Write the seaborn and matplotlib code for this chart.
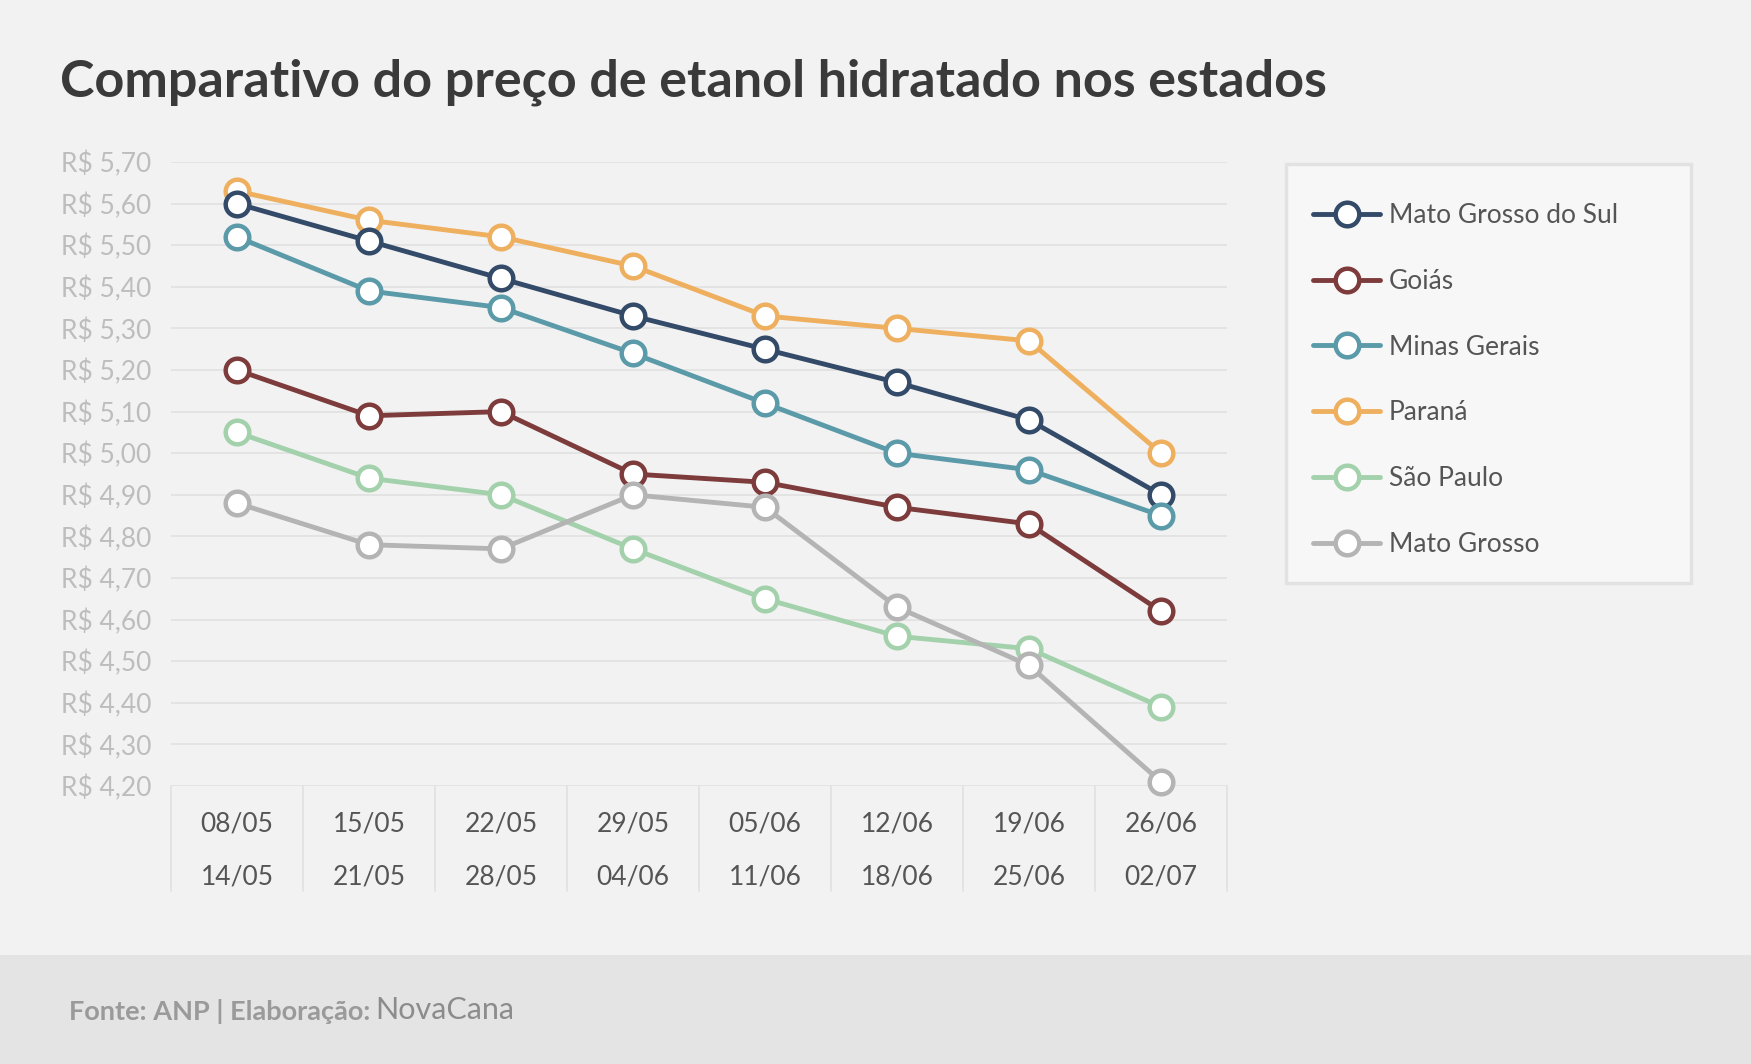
import matplotlib
matplotlib.use("Agg")
import matplotlib.pyplot as plt
import seaborn as sns
import pandas as pd
from matplotlib.patches import Rectangle
from matplotlib.ticker import FixedLocator, FixedFormatter

# ---------------- data ----------------
weeks_start = ["08/05", "15/05", "22/05", "29/05", "05/06", "12/06", "19/06", "26/06"]
weeks_end = ["14/05", "21/05", "28/05", "04/06", "11/06", "18/06", "25/06", "02/07"]
states = ["Mato Grosso do Sul", "Goiás", "Minas Gerais", "Paraná", "São Paulo", "Mato Grosso"]
mato_grosso_do_sul = [5.60, 5.51, 5.42, 5.33, 5.25, 5.17, 5.08, 4.90]
goias = [5.20, 5.09, 5.10, 4.95, 4.93, 4.87, 4.83, 4.62]
minas_gerais = [5.52, 5.39, 5.35, 5.24, 5.12, 5.00, 4.96, 4.85]
parana = [5.63, 5.56, 5.52, 5.45, 5.33, 5.30, 5.27, 5.00]
sao_paulo = [5.05, 4.94, 4.90, 4.77, 4.65, 4.56, 4.53, 4.39]
mato_grosso = [4.88, 4.78, 4.77, 4.90, 4.87, 4.63, 4.49, 4.21]
y_ticks = [4.20, 4.30, 4.40, 4.50, 4.60, 4.70, 4.80, 4.90, 5.00,
           5.10, 5.20, 5.30, 5.40, 5.50, 5.60, 5.70]
colors = ["#334a68", "#7d3b3b", "#5b9aa8", "#eeb05f", "#a3d1ac", "#b4b4b4"]

series = [mato_grosso_do_sul, goias, minas_gerais, parana, sao_paulo, mato_grosso]
rows = []
for st, vals in zip(states, series):
    for i, v in enumerate(vals):
        rows.append({"semana": i, "preco": v, "estado": st})
df = pd.DataFrame(rows)

# ---------------- figure ----------------
W, H = 1751, 1064
sns.set_theme(style="white")
plt.rcParams["font.family"] = ["Lato", "DejaVu Sans"]

fig = plt.figure(figsize=(W / 100, H / 100), dpi=100)
fig.patch.set_facecolor("#f2f2f2")

# footer band
fig.add_artist(Rectangle((0, 0), 1, (H - 955) / H, transform=fig.transFigure,
                         facecolor="#e4e4e4", edgecolor="none", zorder=-2))

# title
fig.text(60 / W, 1 - 82 / H, "Comparativo do preço de etanol hidratado nos estados",
         fontsize=37.5, fontweight="bold", color="#3a3a3a", va="center", ha="left")

ax = fig.add_axes([171 / W, 1 - 786 / H, (1227 - 171) / W, (786 - 162) / H])
ax.set_facecolor("none")

sns.lineplot(data=df, x="semana", y="preco", hue="estado", hue_order=states,
             palette=colors, marker="o", markersize=17, linewidth=3.5,
             markeredgewidth=3.2, ax=ax, legend=False)

zorders = {"Mato Grosso do Sul": 4, "Goiás": 3, "Minas Gerais": 5,
           "Paraná": 2.5, "São Paulo": 5.5, "Mato Grosso": 6}
data_lines = list(ax.lines)
for line, st in zip(data_lines, states):
    c = line.get_color()
    line.set_markeredgecolor(c)
    line.set_markerfacecolor("white")
    line.set_zorder(zorders[st])
    line.set_clip_on(False)
    line.set_solid_capstyle("round")

ax.set_xlim(-0.5, 7.5)
ax.set_ylim(4.20, 5.70)
ax.yaxis.set_major_locator(FixedLocator(y_ticks))
ax.yaxis.set_major_formatter(FixedFormatter(
    ["R$ " + f"{v:.2f}".replace(".", ",") for v in y_ticks]))
ax.grid(axis="y", color="#e2e2e2", linewidth=1.3)
ax.grid(axis="x", visible=False)
ax.set_axisbelow(True)
for s in ax.spines.values():
    s.set_visible(False)
ax.set_xlabel("")
ax.set_ylabel("")

ax.tick_params(axis="y", length=0, pad=14, labelsize=19, labelcolor="#bdbdbd")

# two-row x labels: major (start) + minor (end) at the same positions
ax.xaxis.remove_overlapping_locs = False
ax.xaxis.set_major_locator(FixedLocator(range(len(weeks_start))))
ax.xaxis.set_major_formatter(FixedFormatter(weeks_start))
ax.xaxis.set_minor_locator(FixedLocator(range(len(weeks_end))))
ax.xaxis.set_minor_formatter(FixedFormatter(weeks_end))
ax.tick_params(axis="x", which="major", length=0, pad=18.5, labelsize=19, labelcolor="#555555")
ax.tick_params(axis="x", which="minor", length=0, pad=56.5, labelsize=19, labelcolor="#555555")

# category separators below the plot
for b in [i - 0.5 for i in range(len(weeks_start) + 1)]:
    ax.plot([b, b], [0, -105 / 624], transform=ax.get_xaxis_transform(),
            color="#e2e2e2", linewidth=1.3, clip_on=False, zorder=1)

# legend box (drawn below the axes so the legend sits on top)
fig.add_artist(Rectangle((1286 / W, 1 - 583 / H), 405 / W, 419 / H,
                         transform=fig.transFigure, facecolor="#f7f7f7",
                         edgecolor="#e2e2e2", linewidth=2.5, zorder=-1))
leg = ax.legend(data_lines, states, loc="upper left",
                bbox_to_anchor=(1313 / W, 1 - 203 / H), bbox_transform=fig.transFigure,
                frameon=False, fontsize=19, handlelength=2.55, handletextpad=0.33,
                labelspacing=1.545, borderpad=0, borderaxespad=0, numpoints=1)
for t in leg.get_texts():
    t.set_color("#555555")
leg.set_zorder(10)

# footer text
fig.canvas.draw()
t1 = fig.text(69 / W, 1 - 1012 / H, "Fonte: ANP | Elaboração: ", fontsize=19.5,
              fontweight="bold", color="#9a9a9a", va="center", ha="left")
fig.canvas.draw()
bb = t1.get_window_extent(renderer=fig.canvas.get_renderer())
fig.text(bb.x1 / W - 2 / W, 1 - 1010 / H, "NovaCana", fontsize=22,
         color="#8c8c8c", va="center", ha="left")

fig.savefig("out.png", dpi=100, facecolor=fig.get_facecolor())
